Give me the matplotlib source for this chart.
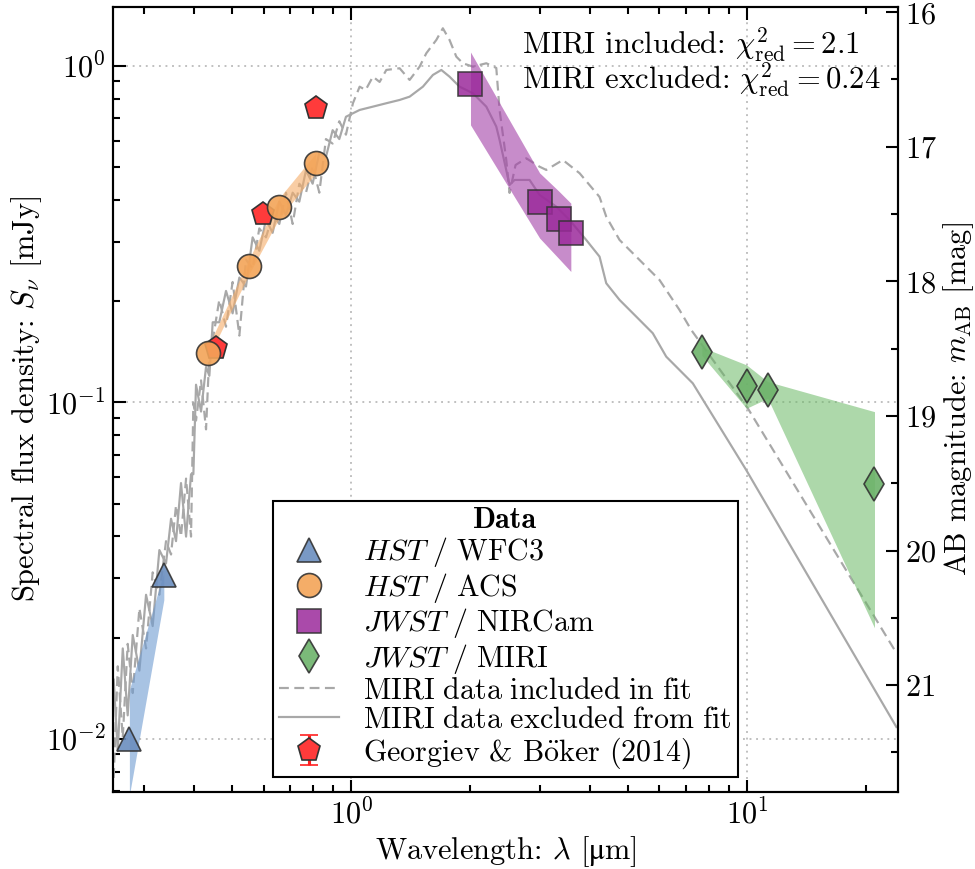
import numpy as np
import matplotlib
matplotlib.use("Agg")
import matplotlib.pyplot as plt
from matplotlib.ticker import MultipleLocator, FixedLocator
from matplotlib.font_manager import FontProperties

plt.rcParams.update({
    "font.family": ["cmr10", "DejaVu Serif"],
    "mathtext.fontset": "cm",
    "axes.formatter.use_mathtext": True,
    "axes.unicode_minus": False,
    "font.size": 14.6,
})

# ---- photometry (wavelength in micron, flux density in mJy) ----
wfc3_wave = [0.275, 0.336]
wfc3_flux = [0.0100, 0.0307]
wfc3_lo = [0.0068, 0.0259]
wfc3_hi = [0.0140, 0.0313]

acs_wave = [0.434, 0.553, 0.657, 0.813]
acs_flux = [0.140, 0.255, 0.380, 0.516]
acs_lo = [0.135, 0.242, 0.352, 0.480]
acs_hi = [0.146, 0.268, 0.405, 0.550]

nircam_wave = [2.00, 2.99, 3.34, 3.585]
nircam_flux = [0.884, 0.395, 0.350, 0.318]
nircam_lo = [0.668, 0.308, 0.268, 0.245]
nircam_hi = [1.10, 0.481, 0.425, 0.391]

miri_wave = [7.68, 9.96, 11.27, 20.97]
miri_flux = [0.1416, 0.112, 0.109, 0.0571]
miri_lo = [0.138, 0.0961, 0.1029, 0.0214]
miri_hi = [0.146, 0.1293, 0.1153, 0.0939]

gb_wave = [0.456, 0.598, 0.812]
gb_flux = [0.145, 0.363, 0.749]
gb_err = [0.003, 0.007, 0.012]

# ---- best-fit model spectra ----
fit_incl_wave = [0.2510, 0.2570, 0.2646, 0.2723, 0.2804, 0.2915, 0.3030, 0.3149, 0.3274, 0.3403,
                 0.3504, 0.3607, 0.3713, 0.3824, 0.3936, 0.3990, 0.4052, 0.4172, 0.4295, 0.4379,
                 0.4465, 0.4639, 0.4824, 0.5013, 0.5214, 0.5419, 0.5632, 0.5855, 0.6088, 0.6327,
                 0.6578, 0.6838, 0.7109, 0.7389, 0.7682, 0.7985, 0.8301, 0.8627, 0.8970, 0.9324,
                 0.9692, 1.0093, 1.0495, 1.0867, 1.1337, 1.1789, 1.2257, 1.3243, 1.4036, 1.4875,
                 1.5466, 1.6395, 1.7030, 1.7704, 1.8416, 1.9131, 2.0281, 2.1926, 2.3237, 2.3686,
                 2.4626, 2.5101, 2.5995, 2.7660, 2.9888, 3.1079, 3.4223, 3.7726, 4.2364, 4.4050,
                 4.7598, 5.3456, 6.0050, 6.7453, 7.2228, 10.035, 23.82]
fit_incl_flux = [0.00766, 0.01644, 0.01009, 0.01917, 0.01369, 0.02447, 0.01858, 0.03127, 0.02682, 0.03871,
                 0.03532, 0.04945, 0.03993, 0.05940, 0.03993, 0.09986, 0.08835, 0.1163, 0.08317, 0.1397,
                 0.1532, 0.2017, 0.1679, 0.2280, 0.1580, 0.2657, 0.2498, 0.3290, 0.3095, 0.3605,
                 0.3392, 0.4202, 0.3392, 0.4467, 0.4202, 0.5048, 0.4202, 0.6064, 0.5880, 0.6850,
                 0.6248, 0.7748, 0.8678, 0.8485, 0.9294, 0.8963, 0.9730, 0.9844, 0.9087, 0.9952,
                 1.0907, 1.1948, 1.2942, 1.1948, 1.0657, 1.0186, 0.9952, 1.0186, 0.9863, 0.7400,
                 0.5255, 0.4195, 0.5078, 0.5316, 0.5019, 0.4909, 0.5255, 0.4800, 0.4081, 0.3566,
                 0.3040, 0.2652, 0.2312, 0.1883, 0.1642, 0.0961, 0.01801]

fit_excl_wave = [0.2510, 0.2570, 0.2646, 0.2723, 0.2804, 0.2915, 0.3030, 0.3149, 0.3274, 0.3403,
                 0.3504, 0.3607, 0.3713, 0.3824, 0.3936, 0.3990, 0.4052, 0.4172, 0.4295, 0.4379,
                 0.4465, 0.4639, 0.4824, 0.5013, 0.5214, 0.5419, 0.5632, 0.5855, 0.6088, 0.6327,
                 0.6578, 0.6838, 0.7109, 0.7389, 0.7682, 0.7985, 0.8301, 0.8627, 0.8970, 0.9324,
                 0.9692, 1.0495, 1.1337, 1.2257, 1.3243, 1.4036, 1.5163, 1.6072, 1.6878, 1.7704,
                 1.8769, 2.0281, 2.1926, 2.3237, 2.3686, 2.5101, 2.5845, 2.8201, 2.9888, 3.2944,
                 3.5579, 3.9210, 4.2364, 4.4050, 4.7598, 5.2455, 5.7742, 6.2445, 7.2878, 9.9425,
                 23.82]
fit_excl_flux = [0.01500, 0.00920, 0.01858, 0.01175, 0.02037, 0.01596, 0.02682, 0.02165, 0.03642, 0.03322,
                 0.04512, 0.03871, 0.05760, 0.03993, 0.06120, 0.06120, 0.1129, 0.09397, 0.1275, 0.1200,
                 0.1731, 0.1731, 0.2145, 0.1840, 0.2351, 0.2211, 0.3095, 0.2823, 0.3499, 0.3192,
                 0.3951, 0.3605, 0.4202, 0.3951, 0.4896, 0.4467, 0.5531, 0.5364, 0.6444, 0.6064,
                 0.7063, 0.7400, 0.7570, 0.7748, 0.7924, 0.8104, 0.8678, 0.9403, 0.9730, 0.9294,
                 0.8678, 0.8296, 0.7570, 0.6604, 0.6026, 0.4430, 0.4584, 0.4584, 0.4138, 0.3818,
                 0.3486, 0.3040, 0.2713, 0.2261, 0.2017, 0.1799, 0.1606, 0.1368, 0.1140, 0.0630,
                 0.01085]

chi2_incl = "2.1"
chi2_excl = "0.24"

x_range = (0.25, 24.0)
y_range = (0.00697, 1.50)
ab_ticks = [16, 17, 18, 19, 20, 21]


def to_ab(s_mjy):
    return -2.5 * np.log10(np.asarray(s_mjy) * 1e-3) + 8.90


W, H, DPI = 975, 869, 150
fig = plt.figure(figsize=(W / DPI, H / DPI), dpi=DPI)
ax = fig.add_axes([113 / W, 1 - 791.7 / H, (897.7 - 113) / W, (791.7 - 6.7) / H])
ax.set_xscale("log")
ax.set_yscale("log")
ax.set_xlim(*x_range)
ax.set_ylim(*y_range)

grey = "#a8a8a8"
l_incl, = ax.plot(fit_incl_wave, fit_incl_flux, color=grey, lw=1.05, ls=(0, (4.5, 2.5)), zorder=2,
                  label=r"$\mathrm{MIRI\ data\ included\ in\ fit}$")
l_excl, = ax.plot(fit_excl_wave, fit_excl_flux, color=grey, lw=1.05, ls="-", zorder=2,
                  label=r"$\mathrm{MIRI\ data\ excluded\ from\ fit}$")

# uncertainty envelopes
ax.fill_between(wfc3_wave, wfc3_lo, wfc3_hi, color="#6f9bd1", alpha=0.6, lw=0, zorder=3)
ax.fill_between(acs_wave, acs_lo, acs_hi, color="#f6ad68", alpha=0.6, lw=0, zorder=3)
ax.fill_between(nircam_wave, nircam_lo, nircam_hi, color="#a340a8", alpha=0.6, lw=0, zorder=3)
ax.fill_between(miri_wave, miri_lo, miri_hi, color="#6ab865", alpha=0.55, lw=0, zorder=3)

ms = 11.5
edge = "#333333"
gb = ax.errorbar(gb_wave, gb_flux, yerr=gb_err, fmt="p", ms=ms, mfc="#ff3b3b", mec=edge, mew=0.8,
                 ecolor="#ff2020", elinewidth=1.5, capsize=4.5, capthick=1.2, zorder=4,
                 label=r"Georgiev & B$\ddot{\mathrm{o}}$ker (2014)")
h_wfc3, = ax.plot(wfc3_wave, wfc3_flux, ls="none", marker="^", ms=ms, mfc="#6b8ebf", mec=edge, mew=0.8,
                  alpha=0.9, zorder=5, label=r"$\mathit{HST}\ /\ \mathrm{WFC3}$")
h_acs, = ax.plot(acs_wave, acs_flux, ls="none", marker="o", ms=ms, mfc="#f3a458", mec=edge, mew=0.8,
                 alpha=0.9, zorder=5, label=r"$\mathit{HST}\ /\ \mathrm{ACS}$")
h_nir, = ax.plot(nircam_wave, nircam_flux, ls="none", marker="s", ms=ms, mfc="#9b2a9b", mec=edge, mew=0.8,
                 alpha=0.85, zorder=5, label=r"$\mathit{JWST}\ /\ \mathrm{NIRCam}$")
h_miri, = ax.plot(miri_wave, miri_flux, ls="none", marker="d", ms=ms * 1.02, mfc="#6db36a", mec=edge, mew=0.8,
                  alpha=0.9, zorder=5, label=r"$\mathit{JWST}\ /\ \mathrm{MIRI}$")

ax.grid(True, which="major", ls=(0, (1, 2.5)), color="#bdbdbd", lw=0.9, zorder=0)
ax.set_axisbelow(True)

for sp in ax.spines.values():
    sp.set_linewidth(1.0)
ax.tick_params(which="both", direction="in", top=True, right=False, width=1.0)
ax.tick_params(which="major", length=6)
ax.tick_params(which="minor", length=3.5)

ax.set_xlabel("Wavelength: $\\lambda$ [$\\mathrm{\u03bc}$m]", labelpad=2)
ax.set_ylabel(r"Spectral flux density: $S_\nu$ [mJy]", labelpad=1)

ax2 = ax.twinx()
ax2.set_position(ax.get_position())
ax2.set_ylim(to_ab(y_range[0]), to_ab(y_range[1]))
ax2.yaxis.set_major_locator(FixedLocator(ab_ticks))
ax2.yaxis.set_minor_locator(MultipleLocator(0.5))
ax2.tick_params(which="both", direction="in", width=1.0)
ax2.tick_params(which="major", length=6)
ax2.tick_params(which="minor", length=3.5)
for sp in ax2.spines.values():
    sp.set_linewidth(1.0)
ax2.set_ylabel(r"AB magnitude: $m_{\mathrm{AB}}$ [mag]", labelpad=2)

ax.text(0.5208, 0.9394, r"MIRI included: $\chi^2_{\mathrm{red}} = %s$" % chi2_incl,
        transform=ax.transAxes, ha="left", va="baseline", fontsize=14.7)
ax.text(0.5208, 0.8948, r"MIRI excluded: $\chi^2_{\mathrm{red}} = %s$" % chi2_excl,
        transform=ax.transAxes, ha="left", va="baseline", fontsize=14.7)

handles = [h_wfc3, h_acs, h_nir, h_miri, l_incl, l_excl, gb]
leg = ax2.legend(handles=handles, labels=[h.get_label() for h in handles], loc="lower center",
                 title="Data", title_fontproperties=FontProperties(family="cmb10", size=14.4),
                 fontsize=14.4, labelspacing=0.05, borderpad=0.2, fancybox=False, framealpha=1.0,
                 edgecolor="black", numpoints=1)
leg.get_frame().set_linewidth(1.0)

fig.savefig("out.png", dpi=DPI)
